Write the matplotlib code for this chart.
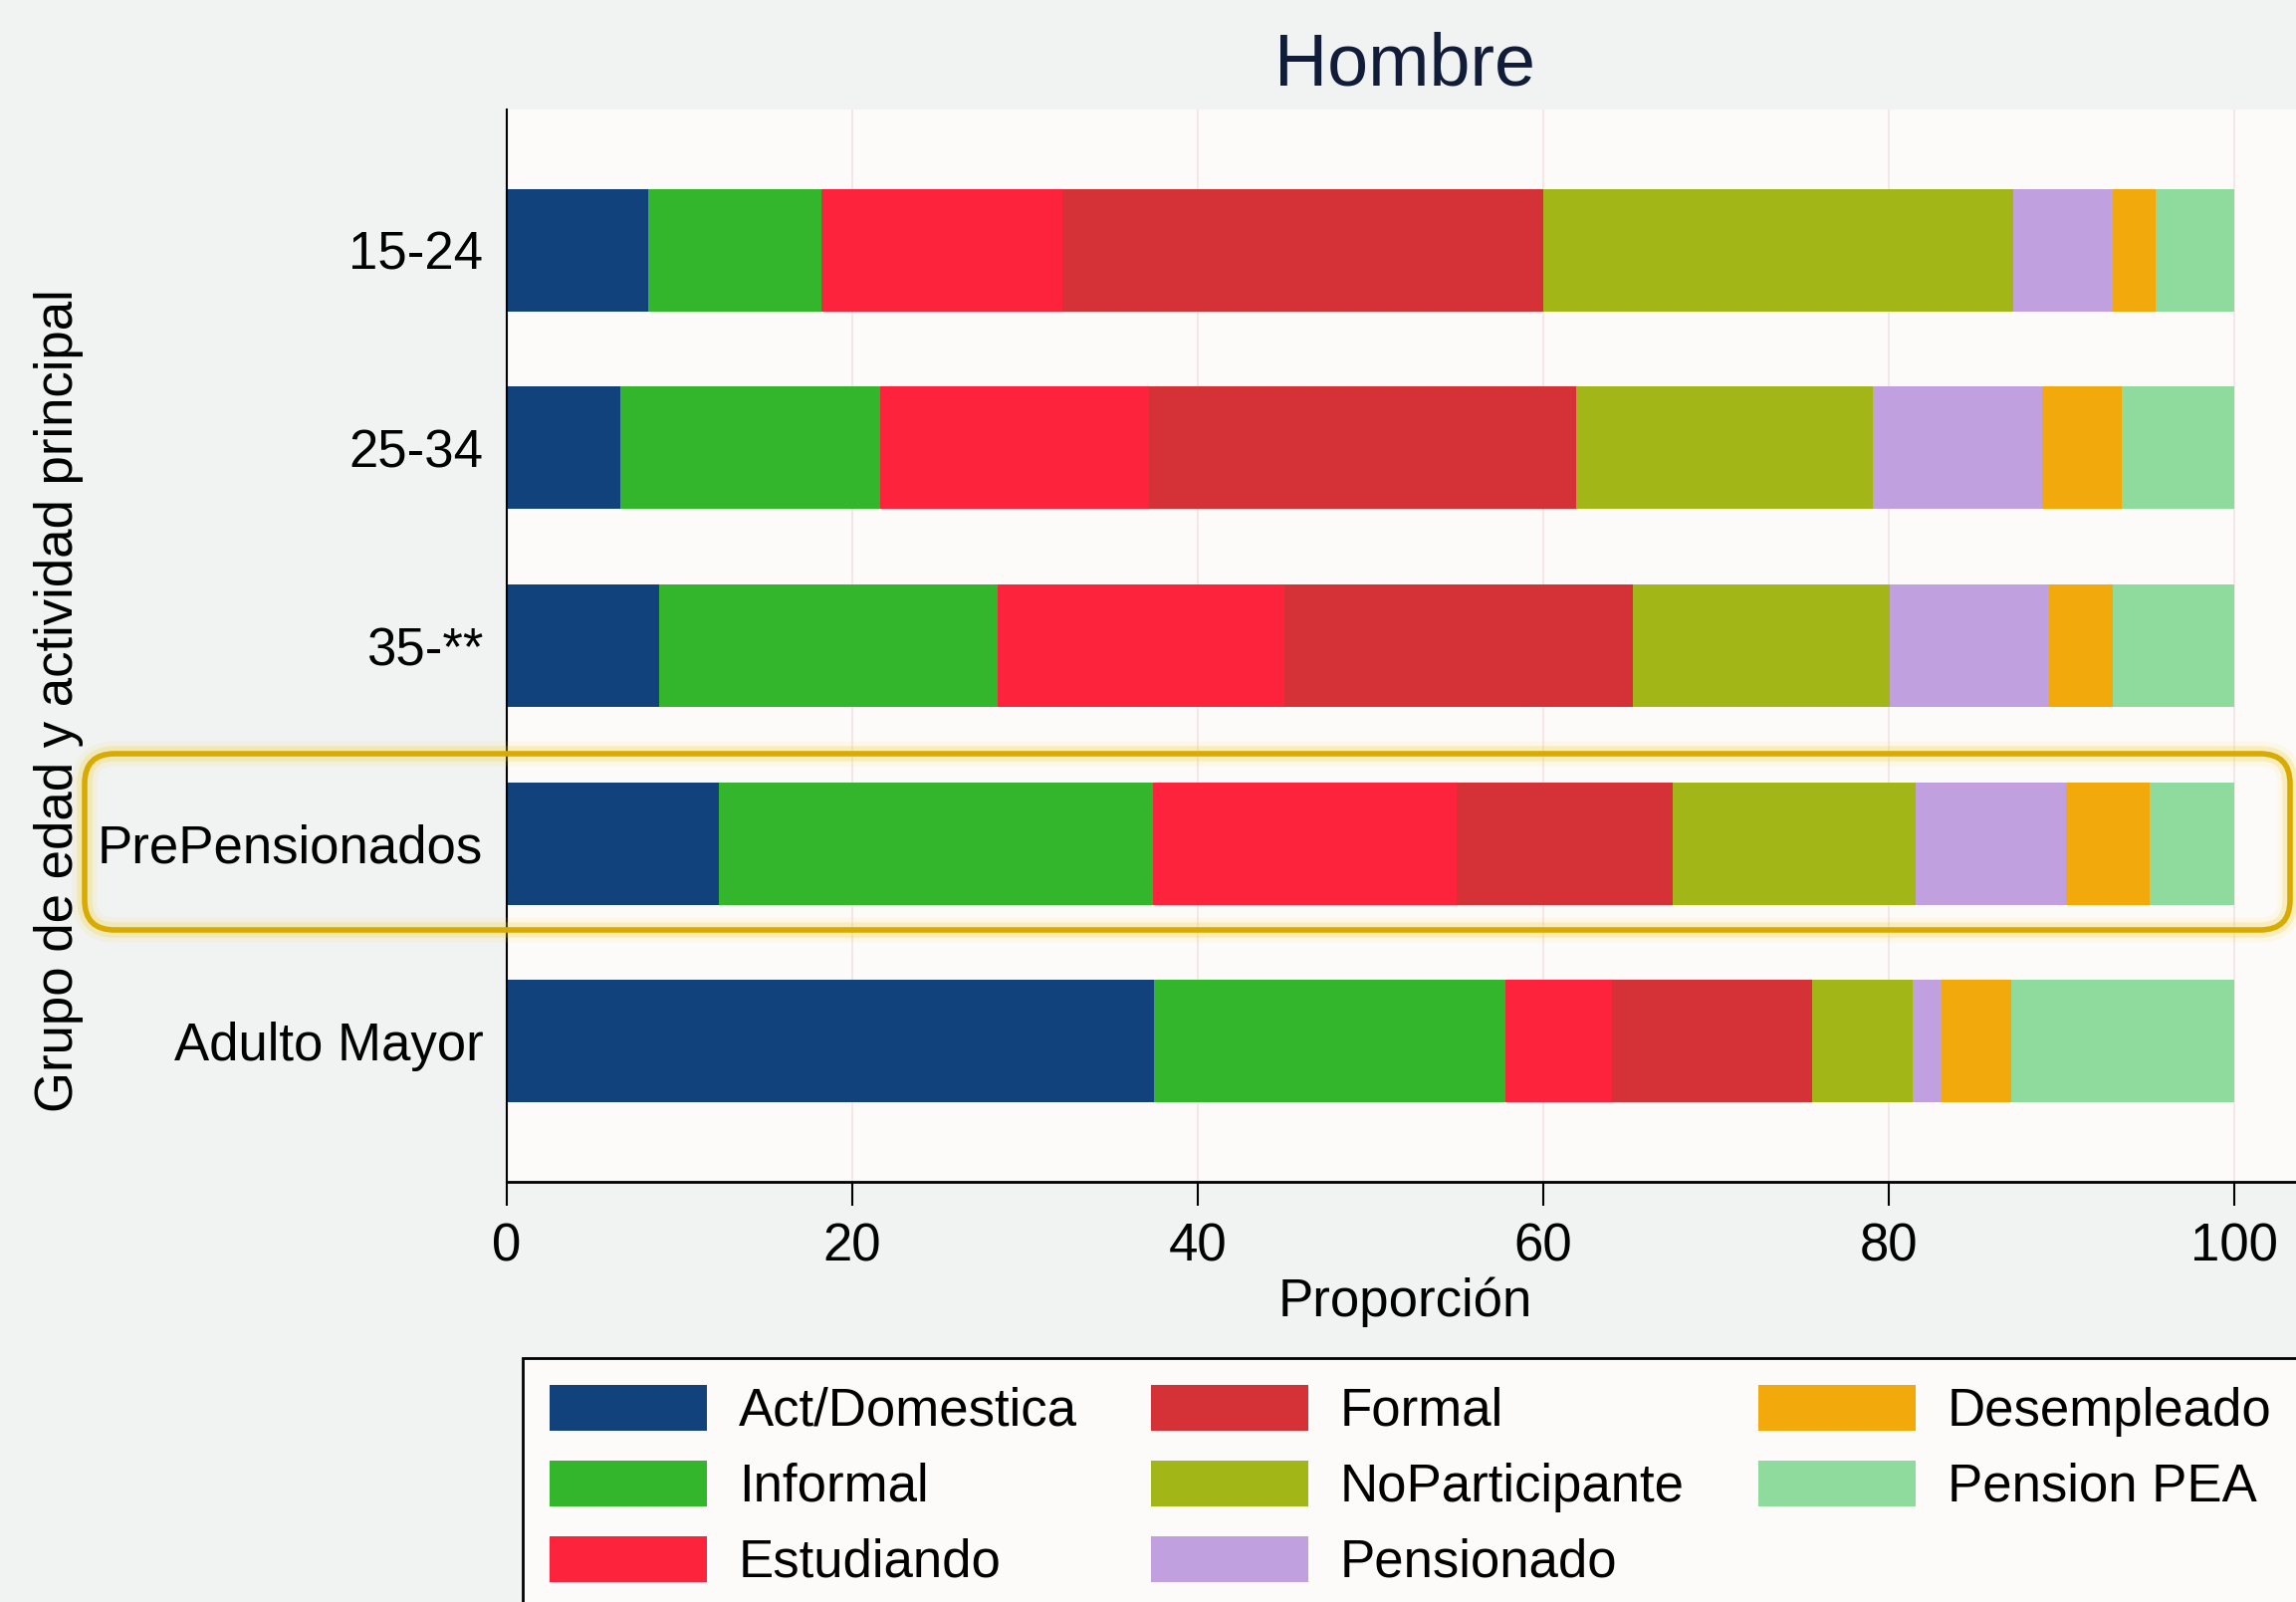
import matplotlib
matplotlib.use('Agg')
import matplotlib.pyplot as plt
from matplotlib.patches import FancyBboxPatch
import numpy as np

plt.rcParams['font.family'] = ['Liberation Sans', 'DejaVu Sans']

grupos = ['15-24', '25-34', '35-**', 'PrePensionados', 'Adulto Mayor']
categorias = ['Act/Domestica', 'Informal', 'Estudiando', 'Formal',
              'NoParticipante', 'Pensionado', 'Desempleado', 'Pension PEA']
act_domestica = [8.2, 6.6, 8.8, 12.3, 37.5]
informal = [10.0, 15.0, 19.6, 25.1, 20.3]
estudiando = [14.0, 15.6, 16.6, 17.6, 6.2]
formal = [27.8, 24.7, 20.2, 12.5, 11.6]
no_participante = [27.2, 17.2, 14.9, 14.1, 5.8]
pensionado = [5.8, 9.8, 9.2, 8.7, 1.7]
desempleado = [2.5, 4.6, 3.7, 4.8, 4.0]
pension_pea = [4.5, 6.5, 7.0, 4.9, 12.9]
colores = ['#11427c', '#33b52c', '#fe233c', '#d43237',
           '#a2b618', '#c1a0e0', '#f2a90c', '#8fdb9e']

series = [act_domestica, informal, estudiando, formal,
          no_participante, pensionado, desempleado, pension_pea]

fig = plt.figure(figsize=(23.06, 16.09), dpi=100, facecolor='#f1f2f2')
ax = fig.add_axes([0.2207, 0.2623, 0.7823, 0.6693])
ax.set_facecolor('#fdfbfa')

y = np.arange(len(grupos))
left = np.zeros(len(grupos))
for vals, nombre, c in zip(series, categorias, colores):
    ax.barh(y, vals, left=left, height=0.62, color=c, label=nombre)
    left += np.array(vals)

ax.set_ylim(4.71, -0.71)
ax.set_xlim(0, 104)
ax.set_yticks(y)
ax.set_yticklabels(grupos)
ax.set_xticks([0, 20, 40, 60, 80, 100])
ax.tick_params(axis='y', length=0, pad=17, labelsize=38)
ax.tick_params(axis='x', length=17, width=1.5, pad=12, labelsize=38)
ax.grid(axis='x', color='#f3e4e4', linewidth=1.2)
ax.set_axisbelow(True)
for s in ['top', 'right']:
    ax.spines[s].set_visible(False)
ax.spines['left'].set_linewidth(1.5)
ax.spines['bottom'].set_linewidth(2)

ax.set_xlabel('Proporción', fontsize=38, labelpad=4)
ax.set_title('Hombre', fontsize=53, color='#101c38', pad=18)
fig.text(0.0256, 0.563, 'Grupo de edad y actividad principal', rotation=90,
         fontsize=38, ha='center', va='center')

leg = fig.legend(loc='upper left', bbox_to_anchor=(0.2164, 0.1685), ncol=3,
                 fontsize=38, frameon=True, fancybox=False, edgecolor='black',
                 facecolor='#fdfbfa', framealpha=1, handlelength=3.0,
                 handleheight=0.97, handletextpad=0.6, columnspacing=1.4,
                 labelspacing=0.45, borderpad=0.5)
leg.get_frame().set_linewidth(2)

# resaltado amarillo
for lw, a, c in [(18, 0.10, '#f5dc40'), (11, 0.22, '#f0d020'), (4, 1.0, '#d9ab00')]:
    box = FancyBboxPatch((0.85, 6.75), 22.15, 1.77,
                         boxstyle='round,pad=0,rounding_size=0.3',
                         transform=fig.dpi_scale_trans, fill=False,
                         edgecolor=c, linewidth=lw, alpha=a)
    fig.add_artist(box)

fig.savefig('out.png', dpi=100, facecolor=fig.get_facecolor())
